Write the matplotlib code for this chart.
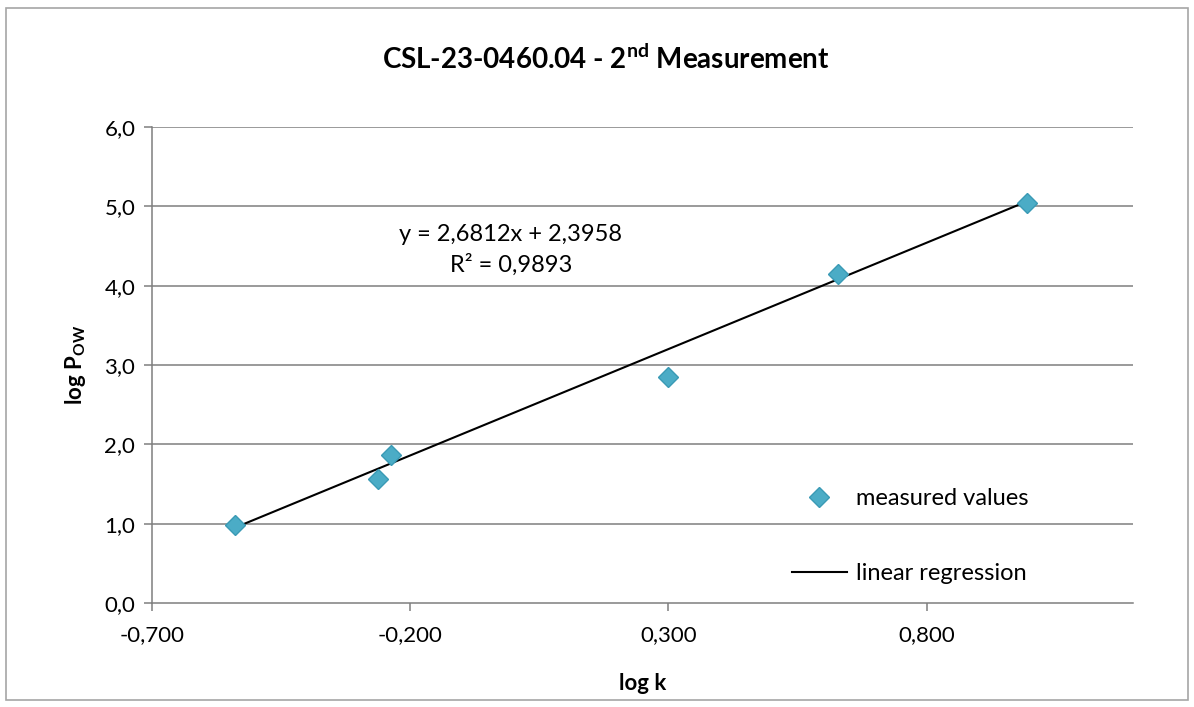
import matplotlib.pyplot as plt
from matplotlib.patches import Rectangle
from matplotlib.lines import Line2D
from matplotlib.ticker import FuncFormatter

log_k = [-0.539, -0.262, -0.238, 0.299, 0.629, 0.995]
log_pow = [0.98, 1.56, 1.87, 2.85, 4.15, 5.04]
slope = 2.6812
intercept = 2.3958
r2 = 0.9893

x_ticks = [-0.7, -0.2, 0.3, 0.8]
y_ticks = [0, 1, 2, 3, 4, 5, 6]

plt.rcParams['font.family'] = ['Lato', 'DejaVu Sans']

fig = plt.figure(figsize=(11.94, 7.07), dpi=100)
fig.patches.append(Rectangle((0.005, 0.01), 0.99, 0.978, transform=fig.transFigure,
                             fill=False, edgecolor='#a6a6a6', linewidth=1.2))
ax = fig.add_axes([0.1273, 0.1471, 0.8217, 0.6733])

line_x = [min(log_k), max(log_k)]
line_y = [slope * v + intercept for v in line_x]

for y in y_ticks[1:]:
    ax.axhline(y, color='#7f7f7f', linewidth=1.1, zorder=1)

ax.plot(line_x, line_y, color='black', linewidth=1.5, zorder=2)
ax.plot(log_k, log_pow, linestyle='none', marker='D', markersize=10,
        color='#4bacc6', markeredgecolor='#3a9ab5', zorder=3)

ax.set_xlim(-0.7, 1.2)
ax.set_ylim(0, 6)
ax.set_xticks(x_ticks)
ax.set_yticks(y_ticks)
ax.xaxis.set_major_formatter(FuncFormatter(lambda v, p: f'{v:.3f}'.replace('.', ',')))
ax.yaxis.set_major_formatter(FuncFormatter(lambda v, p: f'{v:.1f}'.replace('.', ',')))
ax.tick_params(axis='both', labelsize=16, color='#7f7f7f', length=6, width=1.1)
ax.tick_params(axis='x', pad=10)
ax.tick_params(axis='y', pad=6)

for s in ['top', 'right']:
    ax.spines[s].set_visible(False)
for s in ['left', 'bottom']:
    ax.spines[s].set_color('#7f7f7f')
    ax.spines[s].set_linewidth(1.1)

ax.set_xlabel('log k', fontsize=16, fontweight='bold', labelpad=20)
ax.set_ylabel(r'log P$_\mathregular{OW}$', fontsize=16, fontweight='bold', labelpad=12)
ax.set_title(r'CSL-23-0460.04 - 2$^\mathregular{nd}$ Measurement', fontsize=20,
             fontweight='bold', pad=42, x=0.463)

ax.text(-0.005, 4.64, 'y = 2,6812x + 2,3958', fontsize=17, ha='center', va='center')
ax.text(-0.005, 4.26, 'R² = 0,9893', fontsize=17, ha='center', va='center')

handles = [Line2D([], [], linestyle='none', marker='D', markersize=10,
                  color='#4bacc6', markeredgecolor='#3a9ab5'),
           Line2D([], [], color='black', linewidth=1.5)]
ax.legend(handles, ['measured values', 'linear regression'], loc='lower right',
          bbox_to_anchor=(0.915, -0.005), frameon=False, fontsize=17,
          labelspacing=2.3, handlelength=2.3, handletextpad=0.4)

fig.savefig('out.png', dpi=100)
